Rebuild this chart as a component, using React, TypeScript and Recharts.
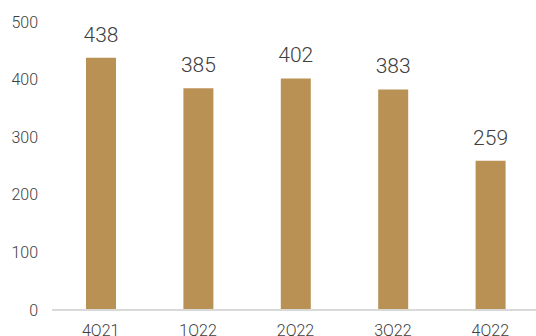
import React from "react";
import { BarChart, Bar, XAxis, YAxis, LabelList } from "recharts";

const categories = ["4Q21", "1Q22", "2Q22", "3Q22", "4Q22"];
const values = [438, 385, 402, 383, 259];
const yTicks = [0, 100, 200, 300, 400, 500];

const data = categories.map((c, i) => ({ name: c, value: values[i] }));

const FONT = "Roboto, 'Liberation Sans', Arial, sans-serif";

export default function App() {
  return (
    <div style={{ position: "absolute", left: 0, top: 0, width: 536, height: 336, overflow: "hidden", background: "#fff" }}>
      <BarChart width={540} height={336} data={data} margin={{ top: 22, right: 1, bottom: 0, left: 0 }}>
        <XAxis
          dataKey="name"
          height={26}
          tickSize={0}
          tickMargin={15}
          axisLine={{ stroke: "#D9D9D9", strokeWidth: 2 }}
          tickLine={false}
          tick={{ fill: "#404040", fontSize: 16, fontFamily: FONT, fontWeight: 300 }}
          interval={0}
        />
        <YAxis
          width={52}
          domain={[0, 500]}
          ticks={yTicks}
          axisLine={false}
          tickLine={false}
          tickSize={0}
          tickMargin={14}
          tick={{ fill: "#404040", fontSize: 16, fontFamily: FONT, fontWeight: 300 }}
        />
        <Bar dataKey="value" fill="#B99154" barSize={30} isAnimationActive={false}>
          <LabelList
            dataKey="value"
            position="top"
            offset={16}
            style={{ fill: "#404040", fontSize: 21, fontFamily: FONT, fontWeight: 300 }}
          />
        </Bar>
      </BarChart>
    </div>
  );
}
